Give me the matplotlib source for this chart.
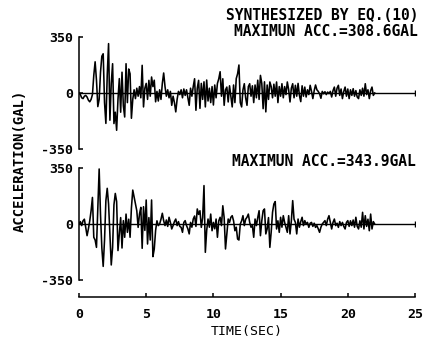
import numpy as np
import matplotlib
matplotlib.use("Agg")
import matplotlib.pyplot as plt

plt.rcParams['font.family'] = ['DejaVu Sans Mono']
plt.rcParams['font.weight'] = 'bold'

dt = 0.1

# top trace: synthesized by eq.(10) (gal), 0.0 .. 22.0 s
acc_top = [
    0, -10, -30, -35, -20, -15, -25, -45, -55, -40,
    -10, 110, 195, 80, -85, -40, 130, 230, 245, -60,
    -190, 110, 308.6, -170, 60, 183, -191, -120, -233, -40,
    90, -120, 130, -80, -150, 183, -60, 150, 120, -158,
    -40, 20, -35, 30, -20, 40, -30, 173, -87, 30,
    60, -40, 79, -20, 100, 40, 80, -55, 10, -50,
    20, -40, 60, 125, 40, -20, 20, -30, 10, -77,
    -20, -60, -118, -40, 10, -10, 20, -30, 25, -15,
    20, -30, -77, 30, -20, 40, 89, -108, 30, 79,
    -96, 60, -40, 70, -87, 81, -50, 30, -60, 40,
    -75, 50, -30, 60, 89, 133, -20, 89, -77, 20,
    37, -56, 45, -20, -87, 50, -60, 90, 120, 175,
    -60, -87, 20, 58, -30, -77, 40, 58, -20, 45,
    -60, 50, -30, 80, -40, 110, 60, -98, 70, -118,
    50, -40, 69, 40, -30, 55, -20, 69, -60, 40,
    -20, 58, -30, 40, -10, 69, 20, -56, 30, 58,
    -30, 48, -20, 60, -15, -54, 45, -20, 37, -25,
    20, -10, 48, 10, -35, 15, 50, 20, 10, -5,
    -33, 10, -5, 8, -10, 6, -4, 10, -25, 15,
    37, -20, 30, 48, -15, 25, -35, 10, 37, -20,
    25, -35, 20, -15, 27, -20, 15, -25, -35, 20,
    -15, 30, -20, 58, -10, 20, -35, 15, 37, -15,
    0,
]

# bottom trace (gal), 0.0 .. 22.0 s
acc_bot = [
    0, 15, -10, 20, 30, -20, -73, -30, 20, 83,
    166, -83, -100, -146, 100, 343.9, 60, -150, -265, -100,
    146, 223, 125, -60, -256, -146, 120, 191, 140, -166,
    -62, 40, -150, 21, -83, 62, -52, 30, -83, 100,
    212, 170, 125, 83, -21, 62, 104, -152, 108, -40,
    150, -125, 40, -100, 150, -204, -156, -40, 20, -10,
    0, 30, 67, 20, -10, 25, -15, 42, 10, -31,
    -10, 15, 31, -10, 15, -15, -21, -52, 10, 21,
    -10, -30, -62, 10, -20, 31, 50, -15, 94, 60,
    83, -21, 40, 240, -177, -40, 31, -20, 62, -42,
    10, -30, 31, -83, 20, 42, -10, 114, 40, -156,
    -60, 31, 10, 42, 52, 20, -42, -20, -94, -100,
    0, 20, 52, -10, 30, 42, 62, 10, -20, -10,
    -83, 31, -10, 40, 83, -73, 20, 83, 94, -62,
    -30, 40, -146, -50, 73, 125, 140, -31, 20, -52,
    42, -20, 52, 10, -20, -52, 52, -62, 20, 146,
    30, 10, -62, 31, -20, 15, 42, -10, 21, 0,
    10, -21, 5, 10, -15, 5, -21, -10, -30, -52,
    -20, 0, 10, 21, -10, 30, 52, 10, -31, 10,
    31, -10, 5, -21, 15, -10, 10, -15, -31, 10,
    21, -15, 20, -10, 25, -20, 42, -15, -31, 20,
    -20, 73, -31, 52, -15, 30, -42, 62, -31, 15,
    0,
]

title_lines = ["SYNTHESIZED BY EQ.(10)", "MAXIMUN ACC.=308.6GAL"]
bottom_label = "MAXIMUN ACC.=343.9GAL"
yticks = [-350, 0, 350]
xticks = [0, 5, 10, 15, 20, 25]

W, H = 428, 341
fig = plt.figure(figsize=(W / 100, H / 100), dpi=100)

def px_axes(x0, y_top, x1, y_bot):
    return fig.add_axes([x0 / W, 1 - y_bot / H, (x1 - x0) / W, (y_bot - y_top) / H])

ax1 = px_axes(79, 37, 415, 149)
ax2 = px_axes(79, 168, 415, 280)

for ax, acc in [(ax1, acc_top), (ax2, acc_bot)]:
    t = np.arange(len(acc)) * dt
    ax.plot(t, acc, color='black', lw=1.15)
    ax.plot([0, 25], [0, 0], color='black', lw=1.0)
    ax.plot([25], [0], marker='|', color='black', ms=5, mew=1.0)
    ax.set_xlim(0, 25)
    ax.set_ylim(-350, 350)
    ax.set_yticks(yticks)
    ax.set_yticklabels([str(v) for v in yticks])
    for s in ['top', 'right', 'bottom']:
        ax.spines[s].set_visible(False)
    ax.spines['left'].set_linewidth(1.1)
    ax.tick_params(axis='y', direction='in', length=3, width=1.1, pad=4, labelsize=9.5)
    ax.patch.set_alpha(0)

ax1.set_xticks([])

ax2.spines['bottom'].set_visible(True)
ax2.spines['bottom'].set_position(('outward', 12))
ax2.spines['bottom'].set_linewidth(1.1)
ax2.set_xticks(xticks)
ax2.set_xticklabels([str(v) for v in xticks])
ax2.tick_params(axis='x', direction='in', length=3, width=1.1, pad=8, labelsize=9.5)
ax2.set_xlabel('TIME(SEC)', fontsize=9.5, labelpad=3)

fig.text(418 / W, 1 - 15 / H, title_lines[0], ha='right', va='center', fontsize=10.5)
fig.text(418 / W, 1 - 32 / H, title_lines[1], ha='right', va='center', fontsize=10.5)
fig.text(416 / W, 1 - 162 / H, bottom_label, ha='right', va='center', fontsize=10.5)
fig.text(20 / W, 1 - 161 / H, 'ACCELERATION(GAL)', rotation=90, ha='center',
         va='center', fontsize=10)

fig.savefig('out.png', dpi=100)
